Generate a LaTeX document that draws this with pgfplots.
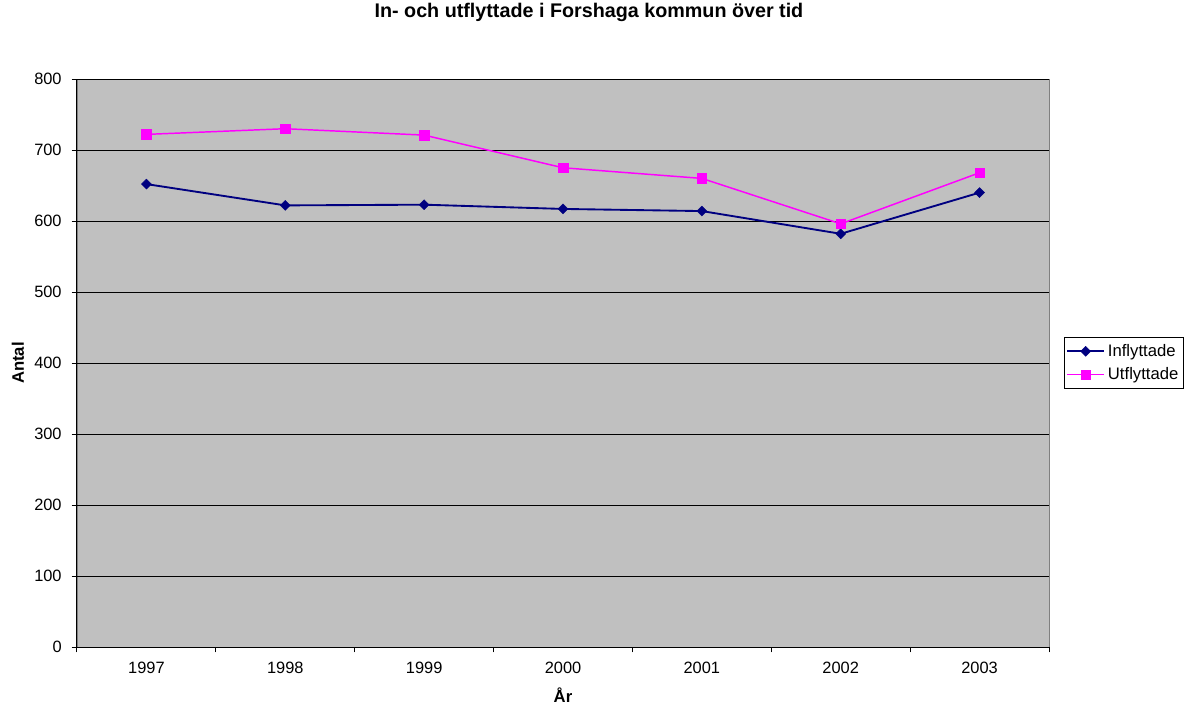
\documentclass[border=0pt]{standalone}
\usepackage{fontspec}
\setmainfont{Liberation Sans}
\usepackage{pgfplots}
\pgfplotsset{compat=1.18}
\definecolor{navyline}{RGB}{0,0,128}
\definecolor{pinkline}{RGB}{255,0,255}
\definecolor{plotbg}{RGB}{192,192,192}

\pgfplotstableread{
x year inn ut
0 1997 652 722
1 1998 622 730
2 1999 623 721
3 2000 617 675
4 2001 614 660
5 2002 582 596
6 2003 640 668
}\flytt

\begin{document}
\begin{tikzpicture}
\path[use as bounding box] (-57.75pt,-42.75pt) rectangle (830.25pt,485.25pt);
\begin{axis}[
  scale only axis,
  width=729pt, height=426pt,
  xmin=-0.5, xmax=6.5, ymin=0, ymax=800,
  axis background/.style={fill=plotbg, draw=gray},
  axis x line*=bottom, axis y line*=left,
  axis line style={black, line width=0.75pt},
  xtick={0,...,6},
  xticklabels={1997,1998,1999,2000,2001,2002,2003},
  major x tick style={draw=none},
  minor xtick={-0.5,0.5,...,6.5},
  minor x tick style={black, line width=0.75pt},
  ytick={0,100,...,800},
  y tick style={black, line width=0.75pt},
  tick align=outside,
  major tick length=4pt, minor tick length=4pt,
  ymajorgrids,
  grid style={black, line width=0.75pt},
  /pgf/number format/assume math mode=true,
  /pgf/number format/set thousands separator={},
  tick label style={font=\fontsize{12.3}{14}\selectfont},
  xticklabel style={yshift=-4pt},
  yticklabel style={xshift=-4pt},
  title={\textbf{In- och utflyttade i Forshaga kommun över tid}},
  title style={at={(axis description cs:0.5267,1.1039)}, anchor=center,
    font=\fontsize{14.8}{17}\selectfont},
  xlabel={\textbf{År}},
  xlabel style={at={(axis description cs:0.5,-0.084)}, anchor=center,
    inner sep=0pt, font=\fontsize{12.5}{14}\selectfont},
  ylabel={\textbf{Antal}},
  ylabel style={at={(axis description cs:-0.0607,0.5)}, anchor=center,
    font=\fontsize{12.5}{14}\selectfont},
  legend style={at={(1.015,0.5)}, anchor=west, draw=black, fill=white,
    font=\fontsize{12.5}{14}\selectfont, inner xsep=1.5pt, inner ysep=3pt,
    row sep=3pt, line width=0.75pt},
  legend cell align=left,
  legend image code/.code={\draw[#1, mark repeat=2, mark phase=2]
    plot coordinates {(0pt,0pt) (14pt,0pt) (28pt,0pt)};},
]
\addplot[navyline, line width=1.4pt, mark=square*, mark size=2.65pt,
  mark options={fill=navyline, draw=navyline, line width=0.3pt, rotate=45}]
  table[x=x, y=inn] {\flytt};
\addlegendentry{Inflyttade}
\addplot[pinkline, line width=1.1pt, mark=square*, mark size=3.6pt,
  mark options={fill=pinkline, draw=pinkline, line width=0.3pt}]
  table[x=x, y=ut] {\flytt};
\addlegendentry{Utflyttade}
\end{axis}
\end{tikzpicture}
\end{document}
